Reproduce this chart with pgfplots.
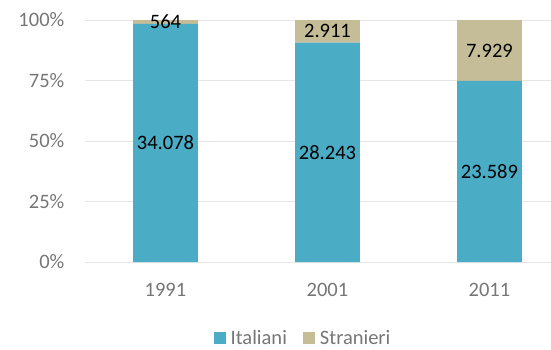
\documentclass[border=0pt]{standalone}
\usepackage{pgfplots}
\pgfplotsset{compat=1.18}
\usepackage{fontspec}
\setmainfont{Carlito}
\definecolor{ital}{HTML}{4BACC6}
\definecolor{stra}{HTML}{C4BD97}
\definecolor{gridc}{HTML}{E6E6E6}
\definecolor{txt}{HTML}{767676}
\begin{document}
\begin{tikzpicture}
\useasboundingbox (0,0) rectangle (551pt,349pt);
\begin{axis}[
 at={(84.5pt,87pt)}, anchor=south west,
 scale only axis, width=466.5pt, height=242pt,
 ybar stacked, bar width=0.4,
 xmin=-0.5, xmax=2.38, ymin=0, ymax=100,
 xtick={0,1,2}, xticklabels={1991,2001,2011},
 ytick={0,25,50,75,100}, yticklabels={0\%,25\%,50\%,75\%,100\%},
 major tick length=0pt,
 axis line style={draw=none},
 ymajorgrids, grid style={gridc, line width=1pt},
 tick label style={font=\fontsize{20.5}{24}\selectfont, text=txt},
 xticklabel style={anchor=north, inner sep=0pt, yshift=-21pt},
 yticklabel style={anchor=east, inner sep=0pt, xshift=-20pt},
 legend style={at={(0.4684,-0.314)}, anchor=center, draw=none, fill=none,
   font=\fontsize{20.5}{24}\selectfont, text=txt, legend columns=2,
   /tikz/every odd column/.append style={column sep=3pt},
   /tikz/every even column/.append style={column sep=14pt}},
 legend image code/.code={\fill[#1] (0pt,-6pt) rectangle (12pt,6pt);},
]
\addplot[fill=ital, draw=none] coordinates {(0,98.372) (1,90.656) (2,74.843)};
\addplot[fill=stra, draw=none] coordinates {(0,1.628) (1,9.344) (2,25.157)};
\legend{Italiani,Stranieri}
\end{axis}
\begin{axis}[
 at={(84.5pt,87pt)}, anchor=south west,
 scale only axis, width=466.5pt, height=242pt,
 xmin=-0.5, xmax=2.38, ymin=0, ymax=100,
 hide axis,
 nodes near coords, point meta=explicit symbolic,
 nodes near coords style={anchor=center, font=\fontsize{20.5}{24}\selectfont, text=black},
]
\addplot[draw=none, mark=none] coordinates {(0,49.19)[34.078] (1,45.33)[28.243] (2,37.42)[23.589]};
\addplot[draw=none, mark=none] coordinates {(0,99.19)[564] (1,95.33)[2.911] (2,87.42)[7.929]};
\end{axis}
\end{tikzpicture}
\end{document}
